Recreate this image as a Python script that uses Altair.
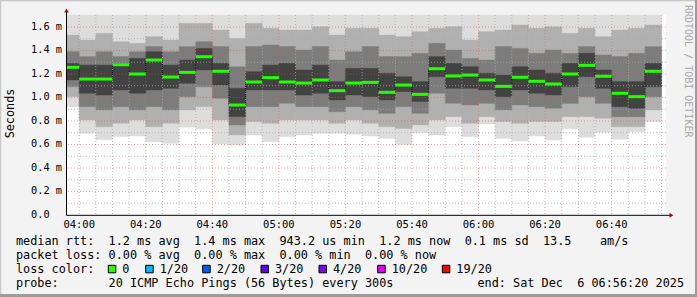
import altair as alt
import pandas as pd

# ---------------- data ----------------
bar_start = ["03:56:20", "04:00", "04:05", "04:10", "04:15", "04:20", "04:25", "04:30",
             "04:35", "04:40", "04:45", "04:50", "04:55", "05:00", "05:05", "05:10",
             "05:15", "05:20", "05:25", "05:30", "05:35", "05:40", "05:45", "05:50",
             "05:55", "06:00", "06:05", "06:10", "06:15", "06:20", "06:25", "06:30",
             "06:35", "06:40", "06:45", "06:50"]
last_end = "06:55"
time_start = "03:56:20"
time_end = "06:56:20"

median_ms = [1.257, 1.157, 1.157, 1.279, 1.200, 1.319, 1.174, 1.214, 1.347, 1.223, 0.936, 1.132,
             1.169, 1.132, 1.123, 1.149, 1.058, 1.123, 1.129, 1.044, 1.106, 1.027, 1.245, 1.183,
             1.191, 1.149, 1.095, 1.172, 1.138, 1.115, 1.200, 1.274, 1.181, 1.036, 1.007, 1.223]
band_top_light = [1.532, 1.489, 1.546, 1.475, 1.461, 1.518, 1.489, 1.631, 1.631, 1.574, 1.503, 1.631,
                  1.589, 1.574, 1.574, 1.603, 1.532, 1.589, 1.589, 1.532, 1.518, 1.560, 1.589, 1.603,
                  1.489, 1.560, 1.574, 1.617, 1.589, 1.603, 1.546, 1.589, 1.518, 1.574, 1.589, 1.617]
band_hi_mid = [1.390, 1.348, 1.390, 1.348, 1.390, 1.433, 1.390, 1.433, 1.475, 1.433, 1.262, 1.433,
               1.447, 1.433, 1.404, 1.433, 1.319, 1.390, 1.433, 1.348, 1.348, 1.376, 1.461, 1.404,
               1.333, 1.319, 1.433, 1.418, 1.376, 1.404, 1.376, 1.433, 1.362, 1.348, 1.376, 1.433]
band_hi_dark = [1.291, 1.276, 1.276, 1.291, 1.333, 1.390, 1.276, 1.319, 1.418, 1.291, 1.078, 1.220,
                1.276, 1.291, 1.234, 1.276, 1.135, 1.248, 1.248, 1.206, 1.177, 1.135, 1.348, 1.291,
                1.262, 1.206, 1.191, 1.262, 1.234, 1.206, 1.291, 1.376, 1.234, 1.135, 1.135, 1.291]
band_lo_dark = [1.149, 1.036, 1.021, 1.064, 1.036, 1.064, 1.078, 1.121, 1.234, 1.106, 0.837, 1.064,
                1.064, 1.064, 1.021, 1.036, 0.979, 1.021, 1.007, 0.979, 1.050, 0.965, 1.177, 1.078,
                1.078, 1.064, 1.007, 1.064, 1.036, 1.021, 1.092, 1.177, 1.078, 0.922, 0.908, 1.092]
band_lo_mid = [1.092, 0.922, 0.894, 0.922, 0.894, 0.922, 0.894, 1.007, 1.092, 0.993, 0.766, 0.922,
               0.922, 0.950, 0.922, 0.922, 0.879, 0.922, 0.894, 0.865, 0.922, 0.865, 1.036, 0.950,
               0.936, 0.950, 0.894, 0.936, 0.922, 0.908, 0.950, 1.007, 0.950, 0.837, 0.837, 1.007]
band_lo_light = [1.007, 0.809, 0.752, 0.780, 0.809, 0.752, 0.780, 0.894, 0.922, 0.809, 0.681, 0.795,
                 0.780, 0.809, 0.809, 0.809, 0.780, 0.809, 0.780, 0.752, 0.737, 0.766, 0.809, 0.837,
                 0.780, 0.837, 0.795, 0.780, 0.795, 0.795, 0.837, 0.837, 0.823, 0.752, 0.752, 0.894]
min_ms = [0.920, 0.695, 0.640, 0.667, 0.672, 0.621, 0.610, 0.746, 0.732, 0.604, 0.596, 0.680,
          0.624, 0.667, 0.680, 0.695, 0.695, 0.687, 0.672, 0.652, 0.600, 0.700, 0.680, 0.750,
          0.667, 0.774, 0.652, 0.630, 0.672, 0.638, 0.732, 0.661, 0.704, 0.644, 0.709, 0.794]

x_tick_labels = ["04:00", "04:20", "04:40", "05:00", "05:20", "05:40", "06:00", "06:20", "06:40"]
y_tick_values = [0.0, 0.2, 0.4, 0.6, 0.8, 1.0, 1.2, 1.4, 1.6]
y_tick_labels = ["0.0", "0.2 m", "0.4 m", "0.6 m", "0.8 m", "1.0 m", "1.2 m", "1.4 m", "1.6 m"]
y_minor_values = [0.1, 0.3, 0.5, 0.7, 0.9, 1.1, 1.3, 1.5]
y_max = 1.7021

line1 = "median rtt:  1.2 ms avg  1.4 ms max  943.2 us min  1.2 ms now  0.1 ms sd  13.5    am/s"
line2 = "packet loss: 0.00 % avg  0.00 % max  0.00 % min  0.00 % now"
line3 = "loss color:"
line4 = "probe:       20 ICMP Echo Pings (56 Bytes) every 300s"
line4_end = "end: Sat Dec  6 06:56:20 2025"
loss_labels = ["0", "1/20", "2/20", "3/20", "4/20", "10/20", "19/20"]
loss_colors = ["#26ff00", "#00b8ff", "#0059ff", "#5e00ff", "#7e00ff", "#dd00ff", "#ff0000"]
y_title = "Seconds"
watermark = "RRDTOOL / TOBI OETIKER"

# ---------------- layout / style ----------------
MONO = "DejaVu Sans Mono"
OX, OY = 67, 15          # plot origin in the canvas
W, H = 599, 200
loss_box_x = [108.3, 145.7, 202.7, 261.0, 319.0, 377.7, 442.3]
shades = ["#dddddd", "#b0b0b0", "#7c7c7c", "#424242"]


def nb(s):
    return s.replace(" ", "\u00a0")


def to_min(t):
    p = [int(v) for v in t.split(":")]
    return p[0] * 60 + p[1] + (p[2] / 60 if len(p) > 2 else 0)


bar_end = bar_start[1:] + [last_end]
xs = alt.Scale(domain=[to_min(time_start), to_min(time_end)], nice=False, zero=False)
ys = alt.Scale(domain=[0, y_max], nice=False, zero=True)

rows = []
for i in range(len(bar_start)):
    t0, t1 = to_min(bar_start[i]), to_min(bar_end[i])
    pairs = [(min_ms[i], y_max), (band_lo_light[i], band_top_light[i]),
             (band_lo_mid[i], band_hi_mid[i]), (band_lo_dark[i], band_hi_dark[i])]
    for lev, (lo, hi) in enumerate(pairs):
        rows.append(dict(t0=t0, t1=t1, lo=lo, hi=hi, level=lev))
bands = pd.DataFrame(rows)

med = pd.DataFrame({"t0": [to_min(t) for t in bar_start],
                    "t1": [to_min(t) for t in bar_end],
                    "m": median_ms})
conn = pd.DataFrame({"t": [to_min(t) for t in bar_start[1:]],
                     "a": median_ms[:-1], "b": median_ms[1:]})

layers = []
for k in range(4):
    layers.append(
        alt.Chart(bands[bands.level == k]).mark_rect(color=shades[k], stroke=shades[k], strokeWidth=0.4)
        .encode(x=alt.X("t0:Q", scale=xs, axis=None), x2="t1:Q",
                y=alt.Y("lo:Q", scale=ys, axis=None), y2="hi:Q")
    )

# grid on top of the smoke
boundaries = bar_start[1:] + [last_end]
vminor = [to_min(t) for t in boundaries if t not in x_tick_labels]
vmajor = [to_min(t) for t in x_tick_labels]
layers.append(alt.Chart(pd.DataFrame({"v": y_minor_values})).mark_rule(
    color="#a8a8a8", strokeDash=[1, 2], strokeWidth=1, opacity=0.75).encode(
    y=alt.Y("v:Q", scale=ys, axis=None)))
layers.append(alt.Chart(pd.DataFrame({"v": vminor})).mark_rule(
    color="#a8a8a8", strokeDash=[1, 2], strokeWidth=1, opacity=0.75).encode(
    x=alt.X("v:Q", scale=xs, axis=None)))
layers.append(alt.Chart(pd.DataFrame({"v": y_tick_values[1:]})).mark_rule(
    color="#e05050", strokeDash=[1, 2], strokeWidth=1, opacity=0.5).encode(
    y=alt.Y("v:Q", scale=ys, axis=None)))
layers.append(alt.Chart(pd.DataFrame({"v": vmajor})).mark_rule(
    color="#e05050", strokeDash=[1, 2], strokeWidth=1, opacity=0.5).encode(
    x=alt.X("v:Q", scale=xs, axis=None)))

# median line
layers.append(alt.Chart(conn).mark_rule(color="black", strokeDash=[1, 1], strokeWidth=1).encode(
    x=alt.X("t:Q", scale=xs, axis=None), y=alt.Y("a:Q", scale=ys, axis=None), y2="b:Q"))
layers.append(alt.Chart(med).mark_rule(color=loss_colors[0], strokeWidth=3).encode(
    x=alt.X("t0:Q", scale=xs, axis=None), x2="t1:Q", y=alt.Y("m:Q", scale=ys, axis=None)))

one = pd.DataFrame({"d": [0]})

# axes lines and arrows
layers.append(alt.Chart(one).mark_rule(color="black", strokeWidth=1).encode(
    x=alt.value(-0.5), x2=alt.value(603), y=alt.value(200.3)))
layers.append(alt.Chart(one).mark_rule(color="black", strokeWidth=1).encode(
    x=alt.value(-0.5), y=alt.value(-3), y2=alt.value(200.3)))
layers.append(alt.Chart(one).mark_point(shape="triangle-up", filled=True, size=22, color="#a01010", opacity=1).encode(
    x=alt.value(-0.5), y=alt.value(-4.5)))
layers.append(alt.Chart(one).mark_point(shape="triangle-right", filled=True, size=22, color="#a01010", opacity=1).encode(
    x=alt.value(604.5), y=alt.value(200.3)))

# tick labels
layers.append(alt.Chart(pd.DataFrame({"v": y_tick_values, "lab": [nb(s) for s in y_tick_labels]})).mark_text(
    align="left", baseline="middle", font=MONO, fontSize=10.3, color="black").encode(
    x=alt.value(31 - OX), y=alt.Y("v:Q", scale=ys, axis=None), text="lab:N"))
layers.append(alt.Chart(pd.DataFrame({"t": vmajor, "lab": x_tick_labels})).mark_text(
    align="center", baseline="middle", font=MONO, fontSize=10.5, color="black").encode(
    x=alt.X("t:Q", scale=xs, axis=None), y=alt.value(224.5 - OY), text="lab:N"))

# titles
layers.append(alt.Chart(one).mark_text(text=y_title, angle=270, align="center", baseline="middle",
                                        font=MONO, fontSize=11.8, color="black").encode(
    x=alt.value(10 - OX), y=alt.value(113.5 - OY)))
layers.append(alt.Chart(one).mark_text(text=nb(watermark), angle=90, align="left", baseline="middle",
                                        font=MONO, fontSize=10, color="#a8a8a8").encode(
    x=alt.value(687.5 - OX), y=alt.value(5 - OY)))

# legend text
for txt, yy, xx in [(line1, 241, 16), (line2, 255, 16), (line3, 269, 16), (line4, 283.3, 16),
                    (line4_end, 283.3, 477.5)]:
    layers.append(alt.Chart(one).mark_text(text=nb(txt), align="left", baseline="middle",
                                            font=MONO, fontSize=11.83, color="black").encode(
        x=alt.value(xx - OX), y=alt.value(yy - OY)))

legend_df = pd.DataFrame({"bx": [b - OX for b in loss_box_x],
                          "bx2": [b + 7.5 - OX for b in loss_box_x],
                          "tx": [b + 14 - OX for b in loss_box_x],
                          "lab": loss_labels, "col": loss_colors})
layers.append(alt.Chart(legend_df).mark_rect(stroke="black", strokeWidth=1).encode(
    x=alt.X("bx:Q", scale=None), x2="bx2:Q", y=alt.value(265.3 - OY), y2=alt.value(272.8 - OY),
    color=alt.Color("col:N", scale=None)))
layers.append(alt.Chart(legend_df).mark_text(align="left", baseline="middle", font=MONO,
                                              fontSize=11.83, color="black").encode(
    x=alt.X("tx:Q", scale=None), y=alt.value(269 - OY), text="lab:N"))

# frame
layers.append(alt.Chart(one).mark_rule(color="#c8c8c8", strokeWidth=1.3).encode(
    x=alt.value(-OX), x2=alt.value(697 - OX), y=alt.value(0.6 - OY)))
layers.append(alt.Chart(one).mark_rule(color="#c8c8c8", strokeWidth=1.3).encode(
    x=alt.value(0.6 - OX), y=alt.value(-OY), y2=alt.value(297 - OY)))
layers.append(alt.Chart(one).mark_rule(color="#9c9c9c", strokeWidth=3).encode(
    x=alt.value(-OX), x2=alt.value(697 - OX), y=alt.value(295.5 - OY)))
layers.append(alt.Chart(one).mark_rule(color="#9c9c9c", strokeWidth=2).encode(
    x=alt.value(696 - OX), y=alt.value(-OY), y2=alt.value(297 - OY)))

chart = alt.layer(*layers).properties(
    width=W, height=H,
    autosize=alt.AutoSizeParams(type="none"),
    padding={"left": OX, "top": OY, "right": 697 - OX - W, "bottom": 297 - OY - H},
    background="#f3f3f3",
).configure_view(fill="white", stroke=None)

chart.save("out.html", embed_options={"renderer": "svg", "actions": False})
